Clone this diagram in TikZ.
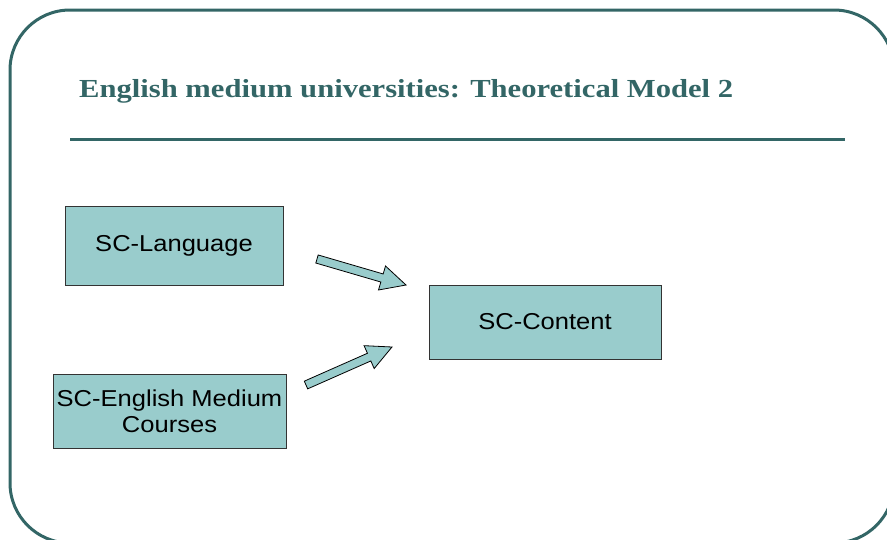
\documentclass[tikz,border=0pt]{standalone}
\usepackage{fontspec}
\usepackage{tikz}
\usetikzlibrary{positioning}
\usetikzlibrary{calc}
\newfontfamily\boxfont[FakeStretch=1.11]{Liberation Sans}
\newfontfamily\titlefont[FakeStretch=1.177]{Liberation Serif}
\definecolor{slideteal}{RGB}{51,102,102}
\definecolor{boxteal}{RGB}{153,204,204}
\tikzset{
	frame/.style={draw=slideteal, line width=3pt, rounded corners=60pt},
	rule/.style={draw=slideteal, line width=3pt},
	scbox/.style={draw=black!80, line width=0.8pt, fill=boxteal, align=center,
		font=\boxfont\fontsize{23}{26}\selectfont, inner sep=0pt},
	blockarrow/.style={draw=black, line width=0.8pt, fill=boxteal, line join=miter},
}
% fat arrow from #1 (tail) to #2 (tip)
\newcommand{\fatarrow}[2]{%
	\coordinate (h) at ($(#2)!25pt!(#1)$);
	\draw[blockarrow] ($(#1)!4.2pt!90:(#2)$) -- ($(h)!4.2pt!90:(#2)$)
		-- ($(h)!12.5pt!90:(#2)$) -- (#2) -- ($(h)!12.5pt!-90:(#2)$)
		-- ($(h)!4.2pt!-90:(#2)$) -- ($(#1)!4.2pt!-90:(#2)$) -- cycle;
}
\begin{document}
\begin{tikzpicture}[x=1pt, y=-1pt]
	\useasboundingbox (0,0) rectangle (887,539);
	\begin{scope}
		\clip (0,0) rectangle (887,539);
		\draw[frame] (10,10) rectangle (894,543);
	\end{scope}
	\node[anchor=base west, text=slideteal, font=\titlefont\bfseries\fontsize{26}{30}\selectfont, inner sep=0pt]
		(title) at (79,97) {English medium universities: Theoretical Model 2};
	\draw[rule] (70,139) -- (845,139);
	\node[scbox, minimum width=218pt, minimum height=79pt] (lang) at (174,245.5) {SC-Language};
	\node[scbox, minimum width=232pt, minimum height=74pt] (content) at (545,322) {SC-Content};
	\node[scbox, minimum width=233pt, minimum height=74pt] (courses) at (169.5,411) {SC-English Medium\\Courses};
	\coordinate (langtail) at (317,259);
	\coordinate (langtip) at (406,285);
	\coordinate (coursetail) at (306,385);
	\coordinate (coursetip) at (392,347);
	\fatarrow{langtail}{langtip}
	\fatarrow{coursetail}{coursetip}
\end{tikzpicture}
\end{document}
